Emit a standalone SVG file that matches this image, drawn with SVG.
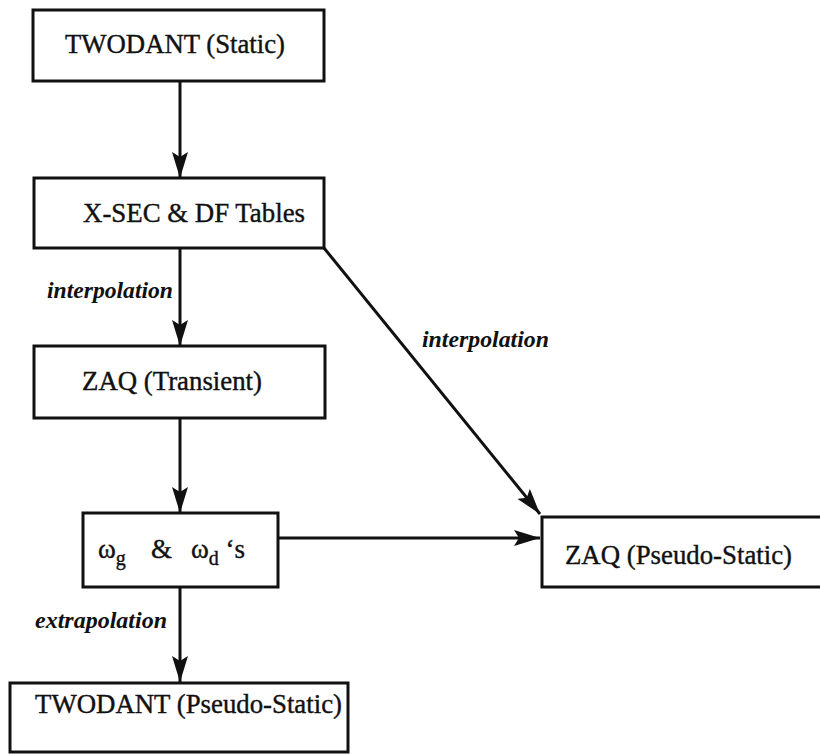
<svg xmlns="http://www.w3.org/2000/svg" width="820" height="755" viewBox="0 0 820 755">
<style>
.box{fill:#fff;stroke:#111;stroke-width:3}
.t{font-family:"Liberation Serif","Times New Roman","DejaVu Serif",serif;font-size:27px;fill:#111;stroke:#111;stroke-width:0.4}
.lab{font-family:"Liberation Serif","Times New Roman","DejaVu Serif",serif;font-size:24px;font-style:italic;font-weight:bold;fill:#111}
.c{stroke:#111;stroke-width:3;fill:none}
</style>
<defs>
<marker id="ah" viewBox="0 0 26 16" refX="26" refY="8" markerWidth="26" markerHeight="16" markerUnits="userSpaceOnUse" orient="auto">
<path d="M0,0 L26,8 L0,16 L5,8 Z" fill="#111"/>
</marker>
</defs>
<rect width="820" height="755" fill="#fff"/>
<g id="connectors">
<line class="c" x1="180" y1="82" x2="180" y2="178" marker-end="url(#ah)"/>
<line class="c" x1="180" y1="248" x2="180" y2="346" marker-end="url(#ah)"/>
<line class="c" x1="180" y1="418" x2="180" y2="513" marker-end="url(#ah)"/>
<line class="c" x1="180" y1="587" x2="180" y2="682" marker-end="url(#ah)"/>
<line class="c" x1="324" y1="248" x2="540" y2="514" marker-end="url(#ah)"/>
<line class="c" x1="278" y1="538" x2="540" y2="538" marker-end="url(#ah)"/>
<text class="lab" x="47" y="298" textLength="126" lengthAdjust="spacingAndGlyphs">interpolation</text>
<text class="lab" x="422" y="347" textLength="127" lengthAdjust="spacingAndGlyphs">interpolation</text>
<text class="lab" x="35" y="628" textLength="132" lengthAdjust="spacingAndGlyphs">extrapolation</text>
</g>
<g id="n1">
<rect class="box" x="33" y="10" width="291" height="71"/>
<text class="t" x="65" y="53" textLength="220" lengthAdjust="spacingAndGlyphs">TWODANT (Static)</text>
</g>
<g id="n2">
<rect class="box" x="34" y="178" width="290" height="70"/>
<text class="t" x="83" y="222" textLength="222" lengthAdjust="spacingAndGlyphs">X-SEC &amp; DF Tables</text>
</g>
<g id="n3">
<rect class="box" x="34" y="346" width="291" height="72"/>
<text class="t" x="82" y="390" textLength="180" lengthAdjust="spacingAndGlyphs">ZAQ (Transient)</text>
</g>
<g id="n4">
<rect class="box" x="83" y="513" width="195" height="74"/>
<text class="t" x="98" y="558" font-size="29">ω<tspan font-size="20" dy="7">g</tspan></text>
<text class="t" x="151" y="558" font-size="24">&amp;</text>
<text class="t" x="191" y="558" font-size="29">ω<tspan font-size="20" dy="7">d</tspan><tspan dy="-7" font-size="27"> ‘s</tspan></text>
</g>
<g id="n5">
<rect class="box" x="542" y="517" width="282" height="70"/>
<text class="t" x="565" y="564" textLength="227" lengthAdjust="spacingAndGlyphs">ZAQ (Pseudo-Static)</text>
</g>
<g id="n6">
<rect class="box" x="10" y="683" width="338" height="69"/>
<text class="t" x="35" y="713" textLength="307" lengthAdjust="spacingAndGlyphs">TWODANT (Pseudo-Static)</text>
</g>
</svg>
